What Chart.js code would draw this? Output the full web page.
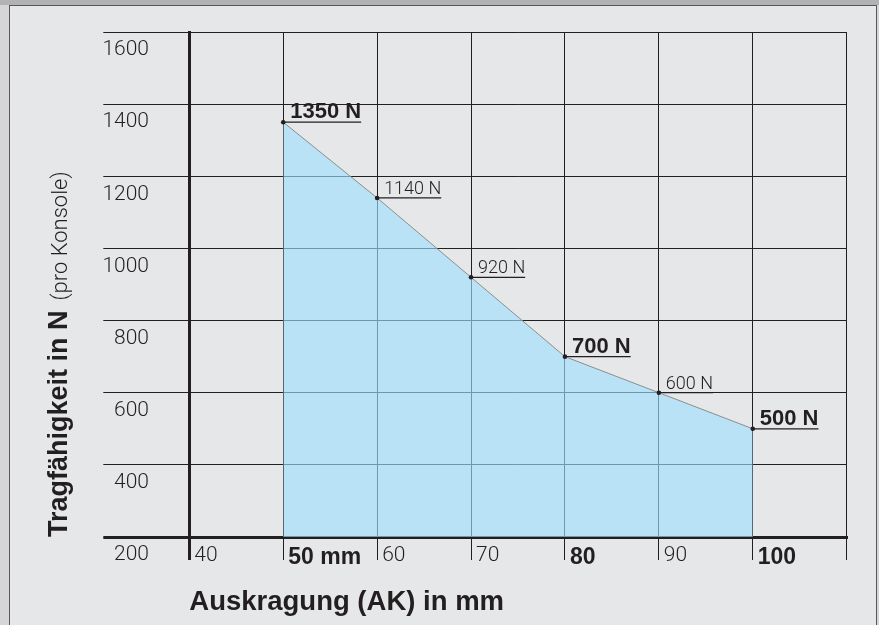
<!DOCTYPE html>
<html>
<head>
<meta charset="utf-8">
<script src="https://cdn.jsdelivr.net/npm/chart.js@4/dist/chart.umd.min.js"></script>
<style>
  html, body { margin: 0; padding: 0; }
  #wrap { position: relative; width: 879px; height: 625px; overflow: hidden; background: #d5d5d7; }
  #topstrip { position: absolute; left: 0; top: 0; width: 879px; height: 5px; background: #b2b2b2; }
  #panel { position: absolute; left: 9px; top: 5px; width: 866px; height: 640px; border: 1px solid #58585a; background: #e6e7e9; }
  #c { position: absolute; left: 0; top: 0; }
</style>
</head>
<body>
<div id="wrap">
  <div id="topstrip"></div>
  <div id="panel"></div>
  <canvas id="c" width="879" height="625"></canvas>
</div>
<script>
// ---- data ----
const overhangMm = [50, 60, 70, 80, 90, 100];
const loadN = [1350, 1140, 920, 700, 600, 500];
const pointLabels = ['1350 N', '1140 N', '920 N', '700 N', '600 N', '500 N'];
const boldPoints = [true, false, false, true, false, true];
const xTickValues = [40, 50, 60, 70, 80, 90, 100, 110];
const xTickLabels = ['40', '50 mm', '60', '70', '80', '90', '100', ''];
const xBoldTicks = [50, 80, 100];
const yTickValues = [200, 400, 600, 800, 1000, 1200, 1400, 1600];
const yTickLabels = ['200', '400', '600', '800', '1000', '1200', '1400', '1600'];
const xTitle = 'Auskragung (AK) in mm';
const yTitle = 'Tragfähigkeit in N';
const yTitleSuffix = '(pro Konsole)';

const INK = '#231f20';
const LIGHT = 'Roboto, "Liberation Sans", sans-serif';
const BOLD = '"Liberation Sans", Arial, sans-serif';

const yTitleFont = { family: BOLD, size: 27, weight: 'bold' };
const yTitlePad = 43;
const boldPointFont = `bold 22px ${BOLD}`;
const lightPointFont = `300 18px ${LIGHT}`;

const pointLabelPlugin = {
  id: 'pointLabels',
  beforeDatasetsDraw(chart) {
    const meta = chart.getDatasetMeta(0);
    const ctx = chart.ctx;
    ctx.save();
    meta.data.forEach((pt, i) => {
      ctx.font = boldPoints[i] ? boldPointFont : lightPointFont;
      const w = ctx.measureText(pointLabels[i]).width;
      ctx.strokeStyle = INK;
      ctx.lineWidth = 1.3;
      ctx.beginPath();
      ctx.moveTo(pt.x, pt.y);
      ctx.lineTo(pt.x + 7 + w, pt.y);
      ctx.stroke();
    });
    ctx.restore();
  },
  afterDatasetsDraw(chart) {
    const meta = chart.getDatasetMeta(0);
    const ctx = chart.ctx;
    ctx.save();
    ctx.fillStyle = INK;
    ctx.textAlign = 'left';
    ctx.textBaseline = 'alphabetic';
    meta.data.forEach((pt, i) => {
      ctx.font = boldPoints[i] ? boldPointFont : lightPointFont;
      ctx.fillText(pointLabels[i], pt.x + 7, pt.y - 4);
    });
    ctx.restore();
  },
  afterDraw(chart) {
    // suffix of the y-axis title in a lighter, smaller font
    const ys = chart.scales.y;
    const ctx = chart.ctx;
    ctx.save();
    ctx.font = `bold ${yTitleFont.size}px ${BOLD}`;
    ctx.textBaseline = 'middle';
    const W = ctx.measureText(yTitle).width;
    const d = ctx.measureText('N').actualBoundingBoxDescent;
    const titleX = ys.left + yTitlePad + yTitleFont.size * 1.2 / 2;
    const startY = ys.bottom - W - 10;
    ctx.translate(titleX, startY);
    ctx.rotate(-Math.PI / 2);
    ctx.font = `300 22px ${LIGHT}`;
    ctx.textBaseline = 'alphabetic';
    ctx.textAlign = 'left';
    ctx.fillStyle = INK;
    ctx.fillText(yTitleSuffix, 0, d);
    ctx.restore();
  }
};

new Chart(document.getElementById('c'), {
  type: 'line',
  data: {
    datasets: [{
      data: overhangMm.map((x, i) => ({ x: x, y: loadN[i] })),
      borderColor: '#8c8c8c',
      borderWidth: 1,
      backgroundColor: 'rgba(158,223,255,0.63)',
      fill: 'start',
      pointRadius: 2.3,
      pointBackgroundColor: INK,
      pointBorderWidth: 0,
      tension: 0
    }]
  },
  options: {
    responsive: false,
    animation: false,
    devicePixelRatio: 1,
    layout: { padding: { left: 0, right: 32.3, top: 32, bottom: 0 } },
    plugins: { legend: { display: false }, tooltip: { enabled: false } },
    scales: {
      x: {
        type: 'linear',
        min: 40, max: 110,
        afterBuildTicks: (s) => { s.ticks = xTickValues.map(v => ({ value: v })); },
        afterFit: (s) => { s.height = 88; },
        grid: {
          color: INK,
          lineWidth: (c) => (c.index === 0 ? 3 : 1),
          tickLength: 23,
          drawTicks: true
        },
        border: { display: true, color: INK, width: 3 },
        ticks: {
          align: 'start',
          labelOffset: 5,
          padding: -16.6,
          maxRotation: 0,
          autoSkip: false,
          color: INK,
          font: (c) => (c.tick && xBoldTicks.includes(c.tick.value)
            ? { family: BOLD, size: 23, weight: 'bold' }
            : { family: LIGHT, size: 21, weight: '300' }),
          callback: (v) => xTickLabels[xTickValues.indexOf(v)]
        },
        title: {
          display: true,
          text: xTitle,
          align: 'start',
          color: INK,
          font: { family: BOLD, size: 27.5, weight: 'bold' },
          padding: { top: 0, bottom: 6 }
        }
      },
      y: {
        type: 'linear',
        min: 200, max: 1600,
        afterBuildTicks: (s) => { s.ticks = yTickValues.map(v => ({ value: v })); },
        afterFit: (s) => { s.width = 189.3; },
        grid: {
          color: INK,
          lineWidth: (c) => (c.index === 0 ? 3 : 1),
          tickLength: 86,
          drawTicks: true
        },
        border: { display: true, color: INK, width: 3 },
        ticks: {
          labelOffset: 18,
          padding: -45.7,
          autoSkip: false,
          color: INK,
          font: { family: LIGHT, size: 21, weight: '300' },
          callback: (v) => yTickLabels[yTickValues.indexOf(v)]
        },
        title: {
          display: true,
          text: yTitle,
          align: 'start',
          color: INK,
          font: yTitleFont,
          padding: { top: yTitlePad, bottom: 0 }
        }
      }
    }
  },
  plugins: [pointLabelPlugin]
});
</script>
</body>
</html>
